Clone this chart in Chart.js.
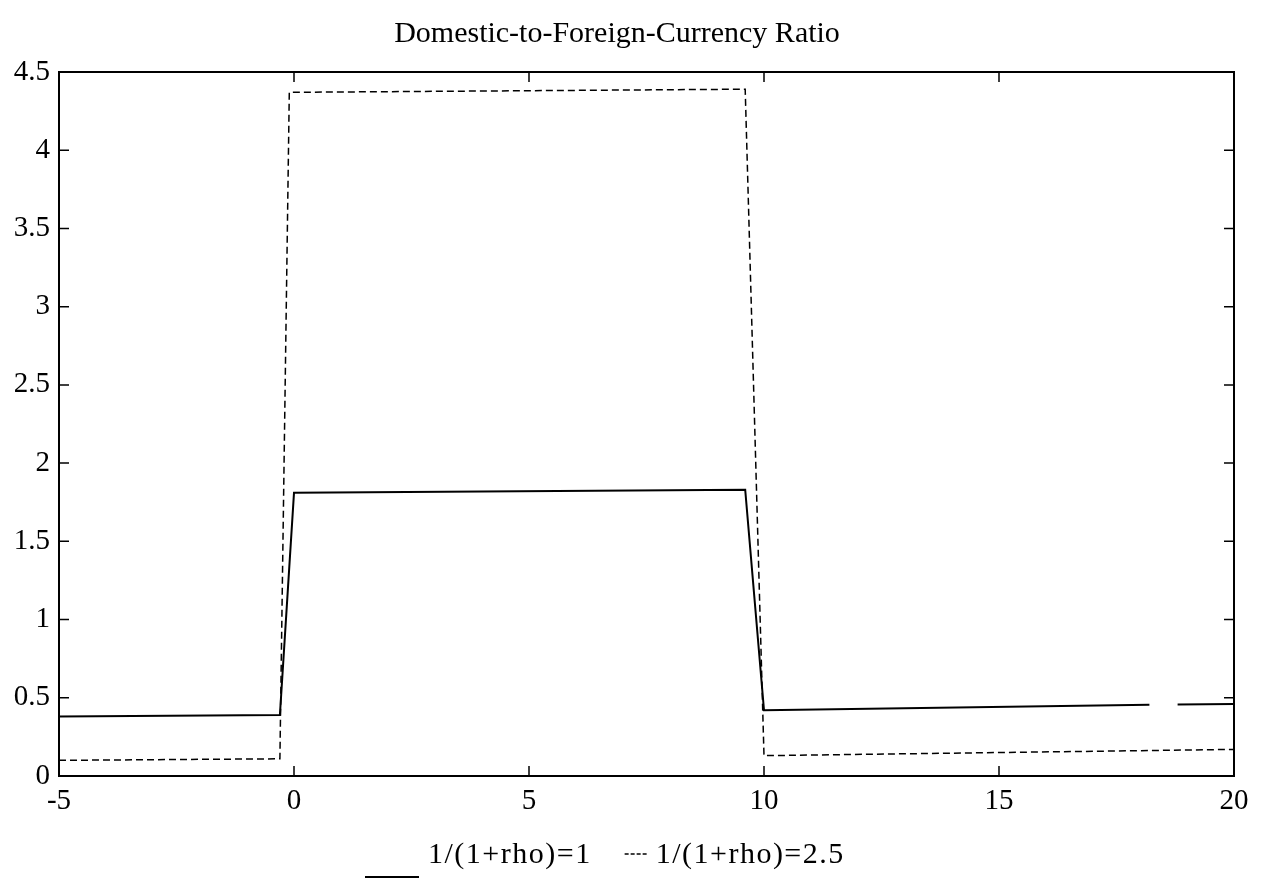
<!DOCTYPE html>
<html>
<head>
<meta charset="utf-8">
<script src="https://cdn.jsdelivr.net/npm/chart.js@4/dist/chart.umd.min.js"></script>
<style>
  html, body { margin: 0; padding: 0; background: #fff; }
  #wrap { width: 1266px; height: 881px; }
</style>
</head>
<body>
<div id="wrap"><canvas id="chart" width="1266" height="881"></canvas></div>
<script>
// values
const seriesLabels = ["1/(1+rho)=1", "1/(1+rho)=2.5"];
const solidX = [-5, -0.3, 0, 9.6, 10, 18.2, 18.5, 18.8, 20];
const solidY = [0.38, 0.39, 1.81, 1.83, 0.42, 0.455, null, 0.457, 0.46];
const dashX = [-5, -0.3, -0.1, 9.6, 10, 20];
const dashY = [0.1, 0.11, 4.37, 4.39, 0.13, 0.17];
const xTicks = [-5, 0, 5, 10, 15, 20];
const yTicks = [0, 0.5, 1, 1.5, 2, 2.5, 3, 3.5, 4, 4.5];

const serif = "'Liberation Serif', 'DejaVu Serif', serif";
const toPoints = (xs, ys) => xs.map((x, i) => ({ x: x, y: ys[i] }));

// box round the plot with short inward ticks on every side
const frameTicks = {
  id: "frameTicks",
  afterDraw(chart) {
    const { ctx, chartArea: a, scales } = chart;
    const len = 10;
    ctx.save();
    ctx.strokeStyle = "#000";
    ctx.lineWidth = 2;
    ctx.strokeRect(a.left, a.top, a.right - a.left, a.bottom - a.top);
    ctx.lineWidth = 1.5;
    ctx.beginPath();
    xTicks.slice(1, -1).forEach(v => {
      const px = scales.x.getPixelForValue(v);
      ctx.moveTo(px, a.bottom); ctx.lineTo(px, a.bottom - len);
      ctx.moveTo(px, a.top); ctx.lineTo(px, a.top + len);
    });
    yTicks.slice(1, -1).forEach(v => {
      const py = scales.y.getPixelForValue(v);
      ctx.moveTo(a.left, py); ctx.lineTo(a.left + len, py);
      ctx.moveTo(a.right, py); ctx.lineTo(a.right - len, py);
    });
    ctx.stroke();
    ctx.restore();
  }
};

// legend like the original: "____ label   ---- label" under the axis
const lineLegend = {
  id: "lineLegend",
  afterDraw(chart) {
    const ctx = chart.ctx;
    const y = 855;
    let x = 365;
    ctx.save();
    ctx.fillStyle = "#000";
    ctx.strokeStyle = "#000";
    ctx.font = "30px " + serif;
    ctx.letterSpacing = "1.5px";
    ctx.textBaseline = "middle";
    // solid sample sits low, like an underscore
    ctx.lineWidth = 2;
    ctx.beginPath();
    ctx.moveTo(x, y + 22); ctx.lineTo(x + 54, y + 22);
    ctx.stroke();
    x += 63;
    ctx.fillText(seriesLabels[0], x, y);
    x += ctx.measureText(seriesLabels[0]).width + 33;
    // dashed sample
    ctx.lineWidth = 1.5;
    ctx.setLineDash([4, 2]);
    ctx.beginPath();
    ctx.moveTo(x, y - 1); ctx.lineTo(x + 22, y - 1);
    ctx.stroke();
    ctx.setLineDash([]);
    x += 31;
    ctx.fillText(seriesLabels[1], x, y);
    ctx.restore();
  }
};

new Chart(document.getElementById("chart"), {
  type: "line",
  plugins: [frameTicks, lineLegend],
  data: {
    datasets: [
      {
        label: seriesLabels[0],
        data: toPoints(solidX, solidY),
        borderColor: "#000",
        borderWidth: 2,
        pointRadius: 0,
        tension: 0,
        spanGaps: false
      },
      {
        label: seriesLabels[1],
        data: toPoints(dashX, dashY),
        borderColor: "#000",
        borderWidth: 1.5,
        borderDash: [7, 4],
        pointRadius: 0,
        tension: 0
      }
    ]
  },
  options: {
    responsive: false,
    animation: false,
    layout: { padding: { left: 0, right: 32, top: 0, bottom: 57 } },
    plugins: {
      tooltip: { enabled: false },
      legend: { display: false },
      title: {
        display: true,
        text: "Domestic-to-Foreign-Currency Ratio",
        color: "#000",
        font: { family: serif, size: 30, weight: "normal" },
        padding: { top: 16, bottom: 20 }
      }
    },
    scales: {
      x: {
        type: "linear",
        min: -5,
        max: 20,
        afterBuildTicks: s => { s.ticks = xTicks.map(v => ({ value: v })); },
        afterFit: s => { s.height = 48; },
        grid: { display: false, drawTicks: false },
        border: { display: false },
        ticks: {
          color: "#000",
          padding: 8,
          font: { family: serif, size: 29 },
          maxRotation: 0,
          callback: v => String(v)
        }
      },
      y: {
        type: "linear",
        min: 0,
        max: 4.5,
        afterBuildTicks: s => { s.ticks = yTicks.map(v => ({ value: v })); },
        afterFit: s => { s.width = 59; },
        grid: { display: false, drawTicks: false },
        border: { display: false },
        ticks: {
          color: "#000",
          padding: 9,
          font: { family: serif, size: 29 },
          callback: v => String(v)
        }
      }
    }
  }
});
</script>
</body>
</html>
